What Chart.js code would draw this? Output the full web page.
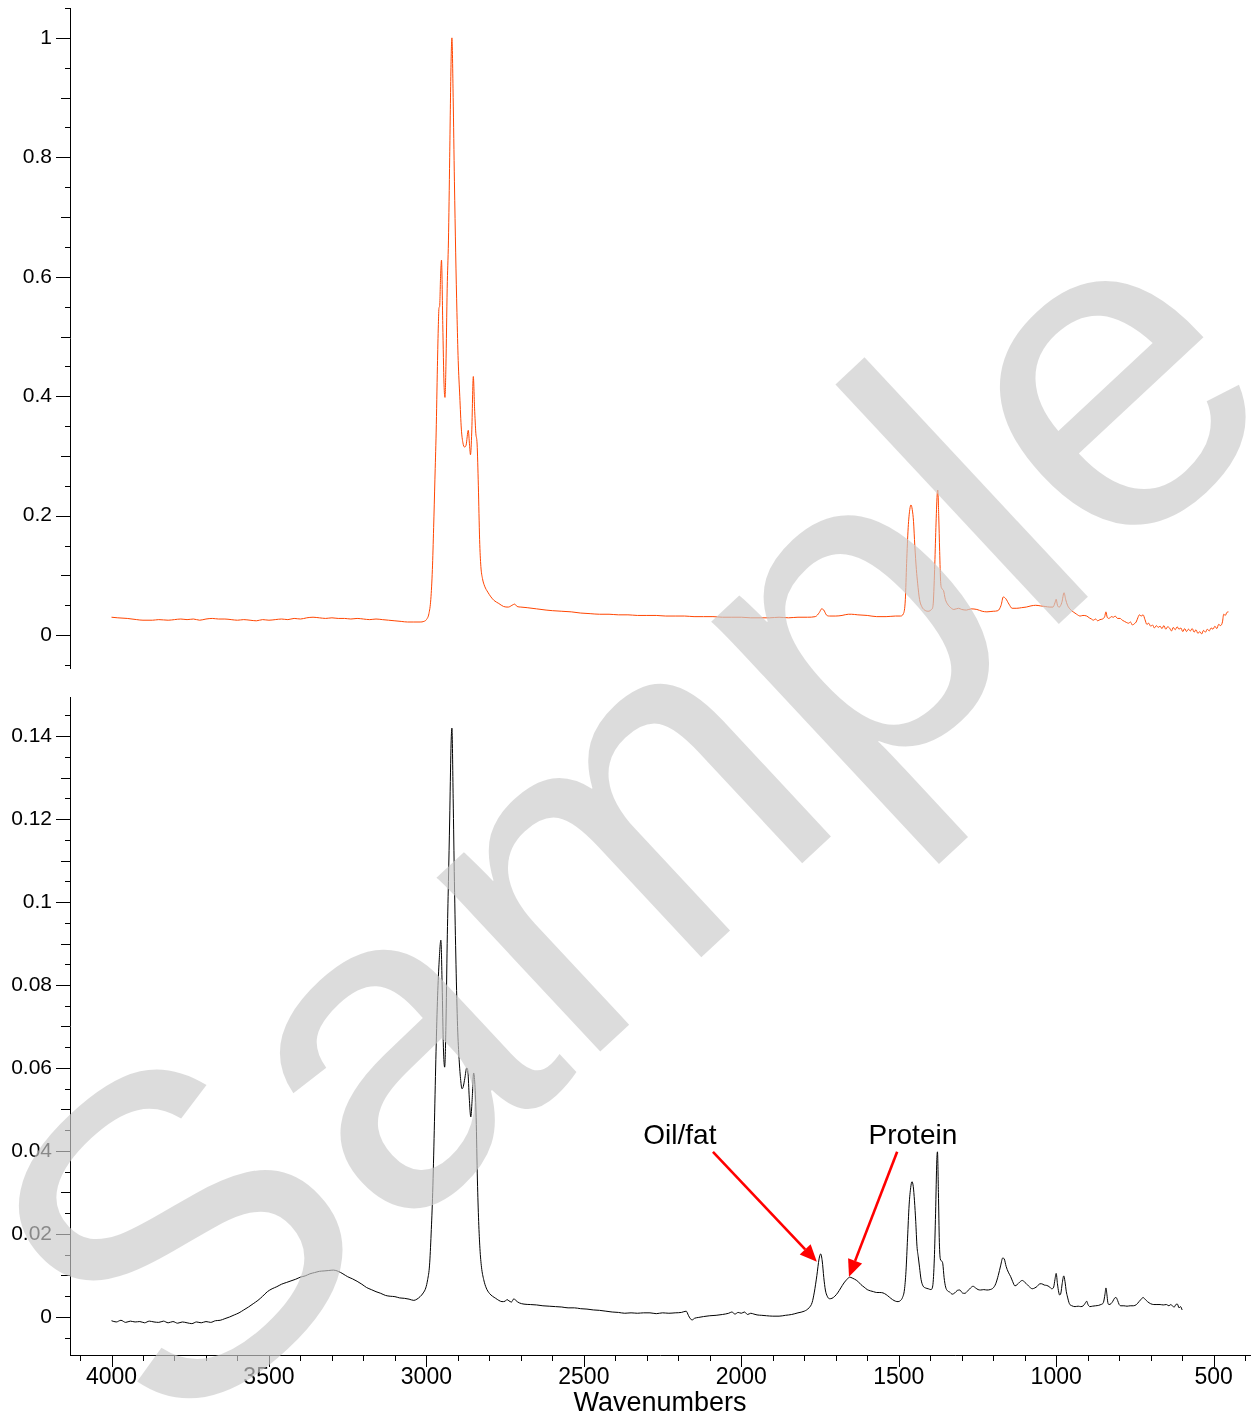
<!DOCTYPE html>
<html>
<head>
<meta charset="utf-8">
<script src="https://cdn.jsdelivr.net/npm/chart.js@4.4.1/dist/chart.umd.min.js"></script>
<style>
  html, body { margin: 0; padding: 0; background: #ffffff; }
  #wrap { position: relative; width: 1252px; height: 1420px; overflow: hidden; background: #fff; }
  #c1 { position: absolute; left: 0; top: 0; }
  #c2 { position: absolute; left: 0; top: 680px; }
  #wm { position: absolute; left: 0; top: 0; pointer-events: none; }
</style>
</head>
<body>
<div id="wrap">
  <canvas id="c1" width="1252" height="680"></canvas>
  <canvas id="c2" width="1252" height="740"></canvas>
  <svg id="wm" width="1252" height="1420" xmlns="http://www.w3.org/2000/svg">
    <text x="173" y="1450" transform="rotate(-43 173 1450)" font-family="'Liberation Sans', Arial, sans-serif" font-size="452" fill="rgba(203,203,203,0.67)">Sample</text>
  </svg>
</div>
<script>
// ---------------- DATA ----------------
const topWavenumbers = [4000,3980,3950,3920,3900,3870,3850,3820,3800,3780,3760,3740,3720,3700,3680,3660,3640,3620,3600,3580,3560,3540,3520,3500,3480,3460,3440,3420,3400,3380,3360,3340,3320,3300,3280,3260,3240,3220,3200,3180,3160,3140,3120,3100,3080,3060,3040,3020,3008,3000,2992,2986,2981,2977,2973,2969,2965,2962,2960,2958,2955,2952,2948,2944,2941,2938,2934,2930,2926,2922,2919,2915,2911,2907,2903,2899,2894,2889,2884,2879,2874,2867,2863,2860,2856,2851,2847,2843,2839,2835,2831,2827,2822,2815,2805,2795,2785,2770,2755,2740,2728,2720,2712,2700,2680,2650,2620,2600,2570,2540,2510,2480,2450,2420,2390,2360,2330,2300,2270,2240,2210,2180,2150,2120,2090,2060,2030,2000,1970,1940,1910,1880,1850,1820,1790,1765,1752,1745,1738,1730,1720,1700,1680,1660,1650,1630,1600,1570,1540,1510,1495,1485,1479,1475,1470,1465,1461,1457,1453,1449,1444,1440,1434,1427,1418,1406,1396,1391,1386,1382,1378,1376,1373,1370,1367,1363,1358,1352,1345,1335,1325,1310,1300,1285,1270,1252,1235,1220,1200,1185,1175,1168,1160,1150,1140,1125,1110,1095,1080,1065,1050,1035,1020,1010,1004,1000,996,990,982,975,970,964,955,946,935,924,915,903,895,888,882,875,868,861,853,846,842,838,832,825,818,813,805,797,790,783,776,770,764,758,752,746,740,736,730,724,718,712,706,700,694,688,682,676,670,664,658,652,646,640,634,628,622,616,610,604,598,592,586,580,574,568,562,556,550,544,538,532,526,520,514,508,502,496,490,484,478,472,468,463,458,453];
const topAbsorbance = [0.030,0.029,0.028,0.026,0.025,0.025,0.026,0.025,0.026,0.027,0.026,0.027,0.025,0.027,0.028,0.027,0.027,0.026,0.025,0.026,0.025,0.024,0.026,0.025,0.026,0.027,0.026,0.028,0.027,0.029,0.030,0.029,0.028,0.029,0.028,0.028,0.027,0.028,0.027,0.026,0.027,0.026,0.025,0.024,0.023,0.022,0.022,0.022,0.023,0.026,0.036,0.060,0.110,0.180,0.260,0.340,0.450,0.520,0.548,0.550,0.600,0.628,0.520,0.420,0.398,0.450,0.580,0.660,0.800,0.950,1.000,0.900,0.760,0.640,0.540,0.460,0.400,0.345,0.322,0.315,0.318,0.343,0.318,0.302,0.340,0.433,0.380,0.338,0.320,0.250,0.160,0.115,0.095,0.082,0.072,0.064,0.058,0.053,0.048,0.047,0.050,0.052,0.048,0.047,0.046,0.044,0.042,0.041,0.040,0.039,0.037,0.036,0.035,0.035,0.034,0.034,0.033,0.033,0.033,0.032,0.032,0.032,0.031,0.031,0.031,0.030,0.030,0.030,0.029,0.029,0.029,0.030,0.029,0.030,0.030,0.031,0.038,0.044,0.042,0.034,0.032,0.032,0.033,0.035,0.035,0.034,0.033,0.031,0.031,0.032,0.032,0.036,0.060,0.120,0.180,0.210,0.218,0.210,0.190,0.150,0.110,0.087,0.060,0.048,0.042,0.040,0.043,0.050,0.110,0.180,0.235,0.243,0.200,0.140,0.090,0.078,0.075,0.060,0.052,0.046,0.043,0.045,0.043,0.042,0.044,0.043,0.040,0.039,0.040,0.041,0.050,0.064,0.061,0.052,0.045,0.045,0.046,0.047,0.049,0.050,0.049,0.048,0.047,0.047,0.054,0.060,0.050,0.047,0.055,0.071,0.060,0.050,0.043,0.039,0.035,0.032,0.033,0.032,0.029,0.027,0.025,0.027,0.024,0.026,0.027,0.031,0.039,0.030,0.028,0.031,0.030,0.032,0.028,0.028,0.025,0.023,0.021,0.020,0.022,0.017,0.019,0.022,0.030,0.034,0.032,0.034,0.026,0.018,0.020,0.015,0.017,0.012,0.016,0.013,0.015,0.011,0.016,0.010,0.014,0.012,0.007,0.013,0.009,0.014,0.010,0.012,0.006,0.011,0.006,0.010,0.007,0.011,0.005,0.009,0.003,0.006,0.002,0.008,0.005,0.010,0.007,0.012,0.010,0.015,0.011,0.018,0.016,0.022,0.035,0.033,0.038,0.039];

const botWavenumbers = [4000,3985,3970,3955,3940,3925,3910,3895,3880,3865,3850,3835,3820,3805,3790,3775,3760,3745,3730,3715,3700,3685,3670,3655,3640,3625,3610,3595,3580,3565,3550,3535,3520,3505,3490,3475,3460,3445,3430,3415,3400,3385,3370,3355,3340,3325,3310,3295,3280,3265,3250,3235,3220,3205,3190,3175,3160,3145,3130,3115,3100,3085,3070,3055,3040,3030,3020,3010,3002,2996,2990,2985,2980,2975,2970,2965,2960,2954,2950,2946,2942,2938,2934,2930,2926,2922,2919,2915,2911,2906,2901,2896,2891,2887,2883,2878,2872,2868,2864,2859,2855,2850,2846,2842,2838,2834,2830,2825,2818,2810,2800,2790,2780,2770,2760,2750,2744,2738,2730,2722,2715,2705,2690,2670,2650,2630,2610,2590,2570,2550,2530,2510,2490,2470,2450,2430,2410,2390,2370,2350,2330,2310,2290,2270,2250,2230,2210,2190,2175,2168,2162,2156,2148,2135,2120,2100,2080,2060,2040,2030,2020,2010,2000,1990,1980,1970,1960,1950,1935,1920,1900,1880,1860,1840,1820,1800,1785,1775,1768,1760,1753,1748,1743,1738,1733,1727,1720,1712,1703,1694,1684,1674,1664,1656,1648,1640,1630,1620,1610,1600,1590,1580,1570,1560,1550,1540,1530,1520,1510,1502,1494,1488,1482,1477,1472,1467,1462,1458,1454,1450,1446,1442,1438,1434,1429,1423,1415,1406,1398,1392,1387,1383,1379,1377,1374,1371,1368,1364,1360,1356,1351,1345,1338,1330,1322,1314,1306,1298,1290,1282,1272,1264,1256,1248,1240,1230,1220,1210,1200,1192,1184,1176,1170,1165,1159,1152,1145,1138,1131,1124,1116,1108,1100,1092,1084,1076,1068,1060,1052,1046,1038,1030,1022,1014,1008,1004,1000,996,992,989,985,981,976,972,968,964,958,950,940,930,922,914,908,903,899,893,885,875,865,858,850,845,842,839,836,832,826,820,815,810,805,800,795,785,775,765,755,745,737,730,724,718,710,700,690,680,670,660,650,642,636,630,625,620,615,610,605,600];
const botAbsorbance = [-0.0009,-0.0012,-0.0008,-0.0013,-0.0010,-0.0012,-0.0011,-0.0014,-0.0010,-0.0012,-0.0013,-0.0010,-0.0014,-0.0011,-0.0015,-0.0012,-0.0014,-0.0016,-0.0012,-0.0014,-0.0011,-0.0013,-0.0009,-0.0008,-0.0004,0.0000,0.0005,0.0010,0.0017,0.0024,0.0032,0.0040,0.0050,0.0061,0.0068,0.0073,0.0079,0.0083,0.0087,0.0091,0.0096,0.0099,0.0104,0.0107,0.0110,0.0111,0.0112,0.0113,0.0110,0.0104,0.0097,0.0092,0.0086,0.0079,0.0071,0.0066,0.0061,0.0057,0.0052,0.0050,0.0049,0.0046,0.0045,0.0043,0.0040,0.0043,0.0049,0.0058,0.0070,0.0090,0.0125,0.0200,0.0300,0.0450,0.0620,0.0760,0.0850,0.0908,0.0800,0.0650,0.0602,0.0700,0.0900,0.1050,0.1200,0.1370,0.1419,0.1250,0.1050,0.0850,0.0700,0.0620,0.0570,0.0550,0.0555,0.0575,0.0600,0.0590,0.0530,0.0482,0.0520,0.0588,0.0560,0.0480,0.0330,0.0230,0.0165,0.0120,0.0090,0.0070,0.0057,0.0050,0.0045,0.0040,0.0037,0.0038,0.0042,0.0039,0.0036,0.0044,0.0039,0.0034,0.0031,0.0030,0.0029,0.0027,0.0026,0.0025,0.0024,0.0022,0.0022,0.0020,0.0019,0.0017,0.0016,0.0014,0.0012,0.0011,0.0009,0.0010,0.0009,0.0010,0.0010,0.0008,0.0010,0.0009,0.0010,0.0011,0.0014,0.0004,-0.0004,-0.0007,-0.0003,-0.0001,0.0001,0.0003,0.0004,0.0006,0.0009,0.0012,0.0007,0.0011,0.0009,0.0012,0.0006,0.0009,0.0007,0.0005,0.0004,0.0003,0.0002,0.0002,0.0004,0.0006,0.0010,0.0014,0.0022,0.0035,0.0060,0.0100,0.0140,0.0152,0.0135,0.0095,0.0065,0.0050,0.0044,0.0045,0.0050,0.0058,0.0070,0.0082,0.0091,0.0096,0.0094,0.0091,0.0086,0.0078,0.0072,0.0066,0.0063,0.0061,0.0059,0.0059,0.0058,0.0054,0.0048,0.0042,0.0038,0.0037,0.0040,0.0047,0.0065,0.0110,0.0190,0.0270,0.0312,0.0326,0.0315,0.0280,0.0230,0.0170,0.0145,0.0120,0.0090,0.0075,0.0070,0.0068,0.0066,0.0075,0.0140,0.0250,0.0380,0.0398,0.0300,0.0180,0.0140,0.0135,0.0128,0.0095,0.0072,0.0063,0.0060,0.0055,0.0058,0.0064,0.0065,0.0058,0.0057,0.0062,0.0070,0.0074,0.0070,0.0066,0.0065,0.0066,0.0065,0.0066,0.0070,0.0080,0.0100,0.0125,0.0142,0.0140,0.0122,0.0108,0.0098,0.0085,0.0075,0.0078,0.0084,0.0088,0.0084,0.0078,0.0072,0.0068,0.0070,0.0074,0.0080,0.0080,0.0077,0.0076,0.0073,0.0068,0.0072,0.0090,0.0105,0.0080,0.0060,0.0053,0.0058,0.0080,0.0099,0.0085,0.0062,0.0048,0.0032,0.0027,0.0025,0.0026,0.0025,0.0027,0.0033,0.0038,0.0030,0.0025,0.0026,0.0027,0.0028,0.0030,0.0035,0.0055,0.0070,0.0055,0.0035,0.0030,0.0032,0.0038,0.0045,0.0047,0.0040,0.0030,0.0027,0.0027,0.0026,0.0027,0.0027,0.0030,0.0037,0.0043,0.0047,0.0043,0.0037,0.0032,0.0030,0.0030,0.0030,0.0029,0.0030,0.0027,0.0030,0.0026,0.0024,0.0030,0.0031,0.0022,0.0025,0.0017];

// Axis ranges and ticks
const xRange = [384.5, 4131.8];
const xTickValues = [4000, 3500, 3000, 2500, 2000, 1500, 1000, 500];
const xTickLabels = ['4000', '3500', '3000', '2500', '2000', '1500', '1000', '500'];
const xMinorStep = 100;
const xTitle = 'Wavenumbers';

const topYRange = [-0.06, 1.05];
const topYTickValues = [0, 0.2, 0.4, 0.6, 0.8, 1];
const topYTickLabels = ['0', '0.2', '0.4', '0.6', '0.8', '1'];
const topYMinorStep = 0.05;

const botYRange = [-0.00916, 0.1494];
const botYTickValues = [0, 0.02, 0.04, 0.06, 0.08, 0.1, 0.12, 0.14];
const botYTickLabels = ['0', '0.02', '0.04', '0.06', '0.08', '0.1', '0.12', '0.14'];
const botYMinorStep = 0.005;

// Annotations
const annotationLabels = ['Oil/fat', 'Protein'];
const annotationTextPos = [[2195, 0.0436], [1455, 0.0436]];
const annotationArrowFrom = [[2090, 0.0398], [1505, 0.0398]];
const annotationArrowTo = [[1760, 0.0133], [1658, 0.0097]];

// ---------------- HELPERS ----------------
const FONT = "'Liberation Sans', Arial, sans-serif";
const near = (a, b, eps) => Math.abs(a - b) < eps;

function stepTicks(lo, hi, step) {
  const out = [];
  const i0 = Math.ceil(lo / step - 1e-9), i1 = Math.floor(hi / step + 1e-9);
  for (let i = i0; i <= i1; i++) out.push(+(i * step).toFixed(6));
  return out;
}
function labelFor(v, values, labels) {
  for (let i = 0; i < values.length; i++) if (near(v, values[i], 1e-7)) return labels[i];
  return '';
}
function points(xs, ys) { return xs.map((x, i) => ({ x: x, y: ys[i] })); }

function makeTickPlugin(lenFns) {
  return {
    id: 'tickMarks',
    afterDraw(chart) {
      const ctx = chart.ctx;
      ctx.save();
      ctx.strokeStyle = '#000';
      ctx.lineWidth = 1;
      ctx.beginPath();
      for (const id in lenFns) {
        const s = chart.scales[id];
        if (!s) continue;
        const fn = lenFns[id];
        for (const t of s.ticks) {
          const len = fn(t.value);
          if (!len) continue;
          const p = Math.round(s.getPixelForValue(t.value)) + 0.5;
          if (s.isHorizontal()) {
            const y0 = s.top;
            ctx.moveTo(p, y0); ctx.lineTo(p, y0 + len);
          } else {
            const x0 = s.right;
            ctx.moveTo(x0 - len, p); ctx.lineTo(x0, p);
          }
        }
      }
      ctx.stroke();
      ctx.restore();
    }
  };
}

const annotationPlugin = {
  id: 'annots',
  afterDatasetsDraw(chart) {
    const ctx = chart.ctx, xs = chart.scales.x, ys = chart.scales.y;
    ctx.save();
    ctx.fillStyle = '#000';
    ctx.font = '28px ' + FONT;
    ctx.textAlign = 'center';
    ctx.textBaseline = 'middle';
    annotationLabels.forEach((lab, i) => {
      ctx.fillText(lab, xs.getPixelForValue(annotationTextPos[i][0]), ys.getPixelForValue(annotationTextPos[i][1]));
    });
    ctx.strokeStyle = '#ff0000';
    ctx.fillStyle = '#ff0000';
    ctx.lineWidth = 2.6;
    annotationArrowFrom.forEach((from, i) => {
      const to = annotationArrowTo[i];
      const x0 = xs.getPixelForValue(from[0]), y0 = ys.getPixelForValue(from[1]);
      const x1 = xs.getPixelForValue(to[0]), y1 = ys.getPixelForValue(to[1]);
      const ang = Math.atan2(y1 - y0, x1 - x0);
      const hl = 17, hw = 7.5;
      const bx = x1 - hl * Math.cos(ang), by = y1 - hl * Math.sin(ang);
      ctx.beginPath();
      ctx.moveTo(x0, y0); ctx.lineTo(bx, by);
      ctx.stroke();
      ctx.beginPath();
      ctx.moveTo(x1, y1);
      ctx.lineTo(bx + hw * Math.sin(ang), by - hw * Math.cos(ang));
      ctx.lineTo(bx - hw * Math.sin(ang), by + hw * Math.cos(ang));
      ctx.closePath();
      ctx.fill();
    });
    ctx.restore();
  }
};

function yAxis(range, values, labels, minorStep, width) {
  return {
    type: 'linear', position: 'left', min: range[0], max: range[1],
    afterBuildTicks: s => { s.ticks = stepTicks(range[0], range[1], minorStep).map(v => ({ value: v })); },
    afterFit: s => { s.width = width; s.paddingTop = 0; s.paddingBottom = 0; },
    grid: { display: true, drawOnChartArea: false, drawTicks: true, tickLength: 14, tickColor: 'rgba(0,0,0,0)' },
    border: { display: true, color: '#000', width: 1 },
    ticks: {
      autoSkip: false, padding: 4, color: '#000',
      font: { family: FONT, size: 21 },
      callback: v => labelFor(v, values, labels)
    }
  };
}

Chart.defaults.font.family = FONT;
Chart.defaults.color = '#000';

// ---------------- TOP CHART ----------------
new Chart(document.getElementById('c1'), {
  type: 'line',
  data: {
    datasets: [{
      data: points(topWavenumbers, topAbsorbance),
      borderColor: '#ff4500', borderWidth: 1, pointRadius: 0,
      cubicInterpolationMode: 'monotone', fill: false
    }]
  },
  options: {
    responsive: false, animation: false, devicePixelRatio: 1,
    layout: { padding: { left: 0, right: 2, top: 8, bottom: 12 } },
    plugins: { legend: { display: false }, tooltip: { enabled: false } },
    scales: {
      x: { type: 'linear', reverse: true, min: xRange[0], max: xRange[1], display: false },
      y: yAxis([-0.055, 1.05], topYTickValues, topYTickLabels, topYMinorStep, 70)
    }
  },
  plugins: [makeTickPlugin({
    y: v => (labelFor(v, topYTickValues, topYTickLabels) !== '' ? 14 : (near(v / 0.1, Math.round(v / 0.1), 1e-6) ? 9 : 5))
  })]
});

// ---------------- BOTTOM CHART ----------------
new Chart(document.getElementById('c2'), {
  type: 'line',
  data: {
    datasets: [{
      data: points(botWavenumbers, botAbsorbance),
      borderColor: '#000000', borderWidth: 1, pointRadius: 0,
      cubicInterpolationMode: 'monotone', fill: false
    }]
  },
  options: {
    responsive: false, animation: false, devicePixelRatio: 1,
    layout: { padding: { left: 0, right: 2, top: 17, bottom: 0 } },
    plugins: { legend: { display: false }, tooltip: { enabled: false } },
    scales: {
      x: {
        type: 'linear', position: 'bottom', reverse: true, min: xRange[0], max: xRange[1],
        afterBuildTicks: s => { s.ticks = stepTicks(xRange[0], xRange[1], xMinorStep).map(v => ({ value: v })); },
        afterFit: s => { s.height = 65; s.paddingLeft = 0; s.paddingRight = 0; },
        grid: { display: true, drawOnChartArea: false, drawTicks: true, tickLength: 9, tickColor: 'rgba(0,0,0,0)' },
        border: { display: true, color: '#000', width: 1 },
        ticks: {
          autoSkip: false, maxRotation: 0, minRotation: 0, padding: 0, color: '#000',
          font: { family: FONT, size: 23 },
          callback: v => labelFor(v, xTickValues, xTickLabels)
        },
        title: { display: true, text: xTitle, color: '#000', font: { family: FONT, size: 27 }, padding: { top: 0, bottom: 0 } }
      },
      y: yAxis(botYRange, botYTickValues, botYTickLabels, botYMinorStep, 70)
    }
  },
  plugins: [makeTickPlugin({
    y: v => (labelFor(v, botYTickValues, botYTickLabels) !== '' ? 14 : (near(v / 0.01, Math.round(v / 0.01), 1e-6) ? 9 : 5)),
    x: v => (labelFor(v, xTickValues, xTickLabels) !== '' ? 12 : 6)
  }), annotationPlugin]
});
</script>
</body>
</html>
